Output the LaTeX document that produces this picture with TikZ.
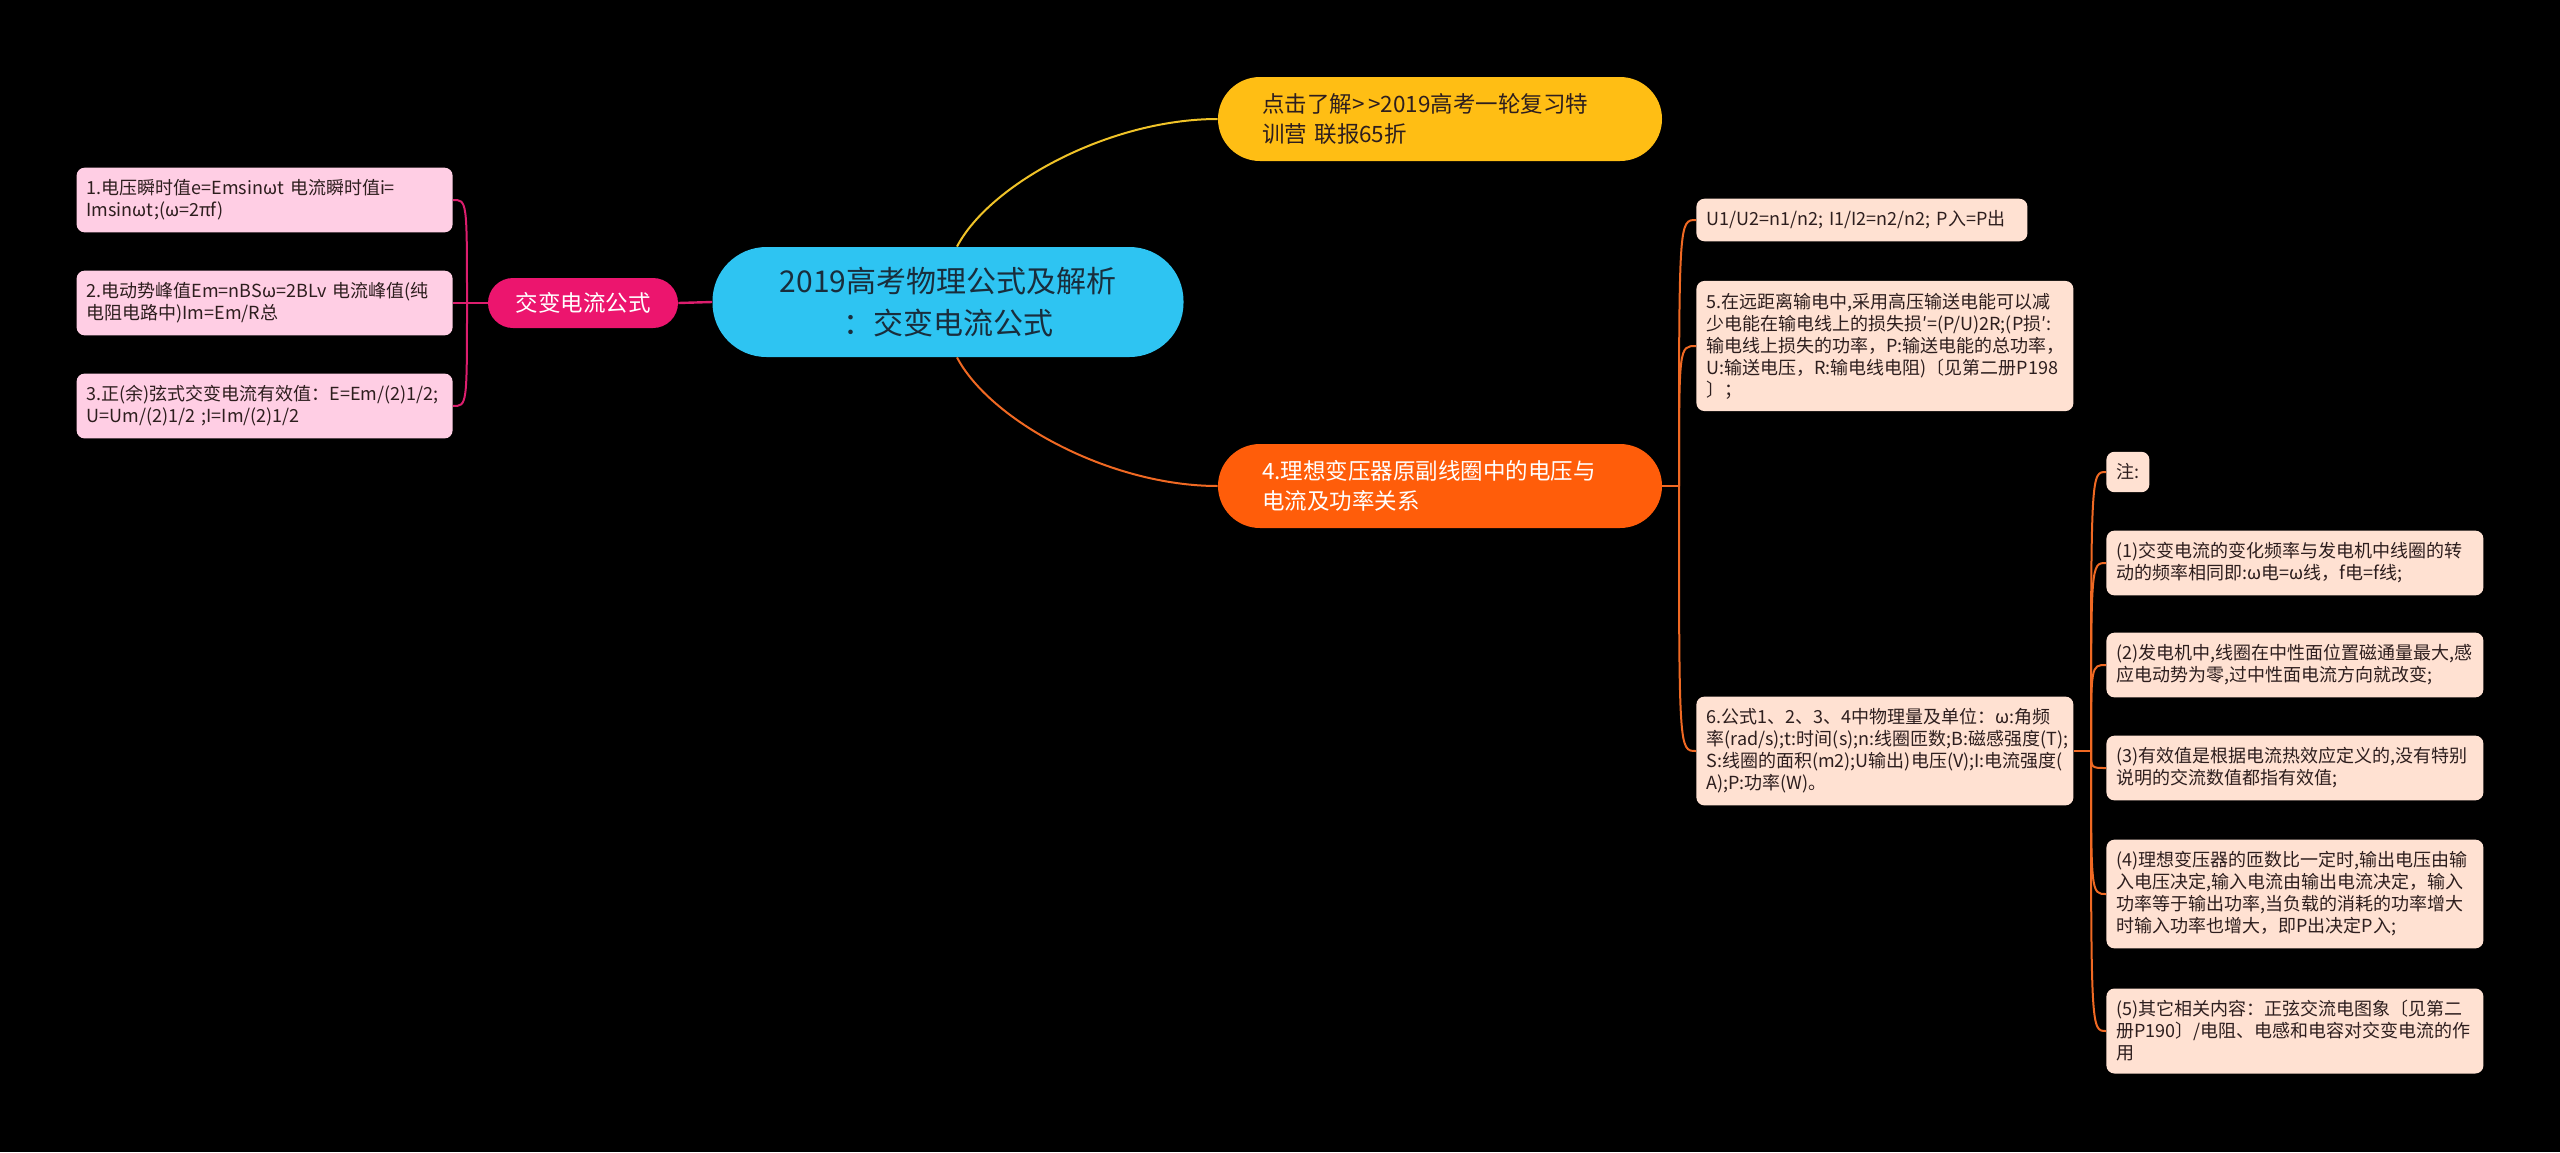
\documentclass[tikz,border=0pt]{standalone}
\usepackage{fontspec}
\setmainfont{Noto Sans CJK SC}
\usepackage{xcolor}
\usepackage{tikz}
\usetikzlibrary{positioning}
\definecolor{rootblue}{RGB}{46,196,242}
\definecolor{roottext}{RGB}{25,45,60}
\definecolor{branchpink}{RGB}{236,21,110}
\definecolor{leafpink}{RGB}{255,206,228}
\definecolor{pinkline}{RGB}{220,30,110}
\definecolor{sunyellow}{RGB}{255,190,20}
\definecolor{yellowline}{RGB}{240,195,40}
\definecolor{fireorange}{RGB}{255,93,10}
\definecolor{orangeline}{RGB}{240,105,35}
\definecolor{peach}{RGB}{255,225,210}
\definecolor{inkdark}{RGB}{45,30,30}

\begin{document}
\begin{tikzpicture}[x=0.5pt, y=-0.5pt,
  smallfont/.style={font=\fontsize{9pt}{11pt}\selectfont},
  pinkleaf/.style={smallfont, fill=leafpink, rounded corners=4pt, anchor=east, text width=178pt, align=left, inner xsep=5pt, inner ysep=6pt, text=inkdark},
  peachnote/.style={smallfont, fill=peach, rounded corners=4pt, anchor=west, inner xsep=5pt, inner ysep=6pt, text=inkdark},
  peachleaf/.style={peachnote, text width=178.5pt, align=left},
  bigbranch/.style={font=\fontsize{11.25pt}{15pt}\selectfont, rounded corners=21pt, minimum height=42pt, text width=178pt, inner xsep=22pt, align=left}]
\fill[black] (0,0) rectangle (2560,1152);

\node[fill=rootblue, text=roottext, rounded corners=27pt, minimum width=235.5pt, minimum height=55pt, align=center, font=\fontsize{15pt}{21pt}\selectfont] (root) at (948,302) {2019高考物理公式及解析\\：交变电流公式};

\node[fill=branchpink, text=white, rounded corners=12.5pt, minimum width=95pt, minimum height=25pt, font=\fontsize{11.25pt}{15pt}\selectfont] (acf) at (583,303) {交变电流公式};
\node[pinkleaf] (L1) at (453,200) {1.电压瞬时值e=Emsinωt 电流瞬时值i=\\Imsinωt;(ω=2πf)};
\node[pinkleaf] (L2) at (453,303) {2.电动势峰值Em=nBSω=2BLv 电流峰值(纯\\电阻电路中)Im=Em/R总};
\node[pinkleaf] (L3) at (453,406) {3.正(余)弦式交变电流有效值：E=Em/(2)1/2;\\U=Um/(2)1/2 ;I=Im/(2)1/2};

\node[bigbranch, fill=sunyellow, text=inkdark] (ad) at (1440,119) {点击了解>\,>2019高考一轮复习特\\训营 联报65折};
\node[bigbranch, fill=fireorange, text=white] (tf) at (1440,486) {4.理想变压器原副线圈中的电压与\\电流及功率关系};

\node[peachleaf, text width=155.5pt] (R1) at (1696,220) {U1/U2=n1/n2; I1/I2=n2/n2; P入=P出};
\node[peachleaf] (R2) at (1696,346) {5.在远距离输电中,采用高压输送电能可以减\\少电能在输电线上的损失损′=(P/U)2R;(P损′:\\输电线上损失的功率，P:输送电能的总功率，\\U:输送电压，R:输电线电阻)〔见第二册P198\\〕；};
\node[peachleaf] (R3) at (1696,751) {6.公式1、2、3、4中物理量及单位：ω:角频\\率(rad/s);t:时间(s);n:线圈匝数;B:磁感强度(T);\\S:线圈的面积(m2);U输出)电压(V);I:电流强度(\\A);P:功率(W)。};

\node[peachnote] (N0) at (2106,472) {注:};
\node[peachleaf] (N1) at (2106,563) {(1)交变电流的变化频率与发电机中线圈的转\\动的频率相同即:ω电=ω线，f电=f线;};
\node[peachleaf] (N2) at (2106,665) {(2)发电机中,线圈在中性面位置磁通量最大,感\\应电动势为零,过中性面电流方向就改变;};
\node[peachleaf] (N3) at (2106,768) {(3)有效值是根据电流热效应定义的,没有特别\\说明的交流数值都指有效值;};
\node[peachleaf] (N4) at (2106,894) {(4)理想变压器的匝数比一定时,输出电压由输\\入电压决定,输入电流由输出电流决定，输入\\功率等于输出功率,当负载的消耗的功率增大\\时输入功率也增大，即P出决定P入;};
\node[peachleaf] (N5) at (2106,1031) {(5)其它相关内容：正弦交流电图象〔见第二\\册P190〕/电阻、电感和电容对交变电流的作\\用};

\coordinate (lb) at (467,303);
\coordinate (ob) at (1679,486);
\coordinate (nb) at (2091,751);

\draw[yellowline, line width=1pt] ([xshift=4.5pt]root.north) .. controls +(33,-63) and +(-108,0) .. (ad.west);
\draw[orangeline, line width=1pt] ([xshift=4.5pt]root.south) .. controls +(33,63) and +(-108,0) .. (tf.west);
\draw[pinkline, line width=1.2pt] (root.west) -- (acf.east);
\draw[pinkline, line width=1pt] (acf.west) -- (lb);
\foreach \n in {L1,L2,L3}
    \draw[pinkline, line width=1pt] (lb) .. controls (lb |- \n.east) .. (\n.east);
\draw[orangeline, line width=1pt] (tf.east) -- (ob);
\foreach \n in {R1,R2,R3}
    \draw[orangeline, line width=1pt] (ob) .. controls (ob |- \n.west) .. (\n.west);
\draw[orangeline, line width=1pt] (R3.east) -- (nb);
\foreach \n in {N0,N1,N2,N3,N4,N5}
    \draw[orangeline, line width=1pt] (nb) .. controls (nb |- \n.west) .. (\n.west);
\end{tikzpicture}
\end{document}
